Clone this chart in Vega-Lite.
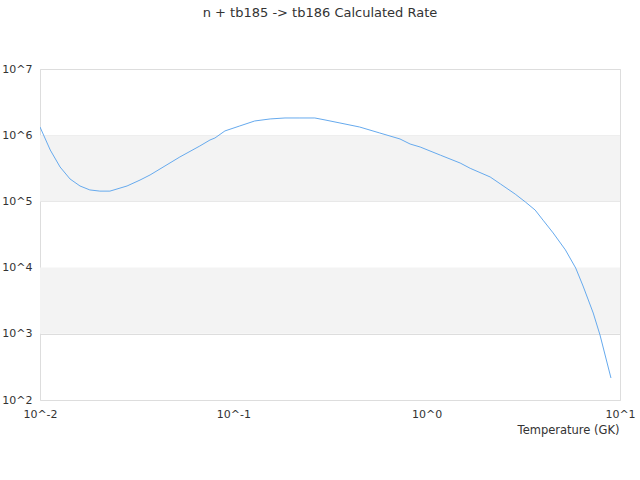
{
  "$schema": "https://vega.github.io/schema/vega-lite/v6.json",
  "width": 580,
  "height": 331,
  "autosize": {"type": "none"},
  "padding": {"left": 40, "top": 69, "right": 20, "bottom": 80},
  "title": {
    "text": "n + tb185 -> tb186 Calculated Rate",
    "font": "DejaVu Sans",
    "fontSize": 13,
    "fontWeight": "normal",
    "color": "#333333",
    "anchor": "middle",
    "offset": 43,
    "dx": -10
  },
  "config": {
    "font": "DejaVu Sans",
    "view": {"stroke": "#dddddd"},
    "axis": {
      "labelFont": "DejaVu Sans",
      "labelFontSize": 11,
      "labelColor": "#333333",
      "titleFont": "DejaVu Sans",
      "titleFontSize": 11.5,
      "titleFontWeight": "normal",
      "titleColor": "#333333",
      "ticks": false,
      "domain": false
    }
  },
  "layer": [
    {
      "data": {"values": [{"lo": 1000, "hi": 10000}, {"lo": 100000, "hi": 1000000}]},
      "mark": {"type": "rect", "color": "#f3f3f3"},
      "encoding": {
        "y": {"field": "lo", "type": "quantitative", "scale": {"type": "log", "domain": [100, 10000000]}},
        "y2": {"field": "hi"}
      }
    },
    {
      "data": {"values": [
        {"T": 0.01, "rate": 1330000},
        {"T": 0.0113, "rate": 597000},
        {"T": 0.0127, "rate": 331000},
        {"T": 0.0143, "rate": 218000},
        {"T": 0.0161, "rate": 171000},
        {"T": 0.0181, "rate": 149000},
        {"T": 0.0204, "rate": 143000},
        {"T": 0.023, "rate": 143000},
        {"T": 0.0282, "rate": 171000},
        {"T": 0.0329, "rate": 210000},
        {"T": 0.0371, "rate": 251000},
        {"T": 0.0443, "rate": 343000},
        {"T": 0.0529, "rate": 469000},
        {"T": 0.0671, "rate": 687000},
        {"T": 0.0757, "rate": 846000},
        {"T": 0.0803, "rate": 907000},
        {"T": 0.0905, "rate": 1160000},
        {"T": 0.108, "rate": 1380000},
        {"T": 0.129, "rate": 1640000},
        {"T": 0.155, "rate": 1760000},
        {"T": 0.185, "rate": 1820000},
        {"T": 0.221, "rate": 1820000},
        {"T": 0.264, "rate": 1820000},
        {"T": 0.298, "rate": 1700000},
        {"T": 0.356, "rate": 1530000},
        {"T": 0.45, "rate": 1330000},
        {"T": 0.572, "rate": 1080000},
        {"T": 0.728, "rate": 877000},
        {"T": 0.821, "rate": 736000},
        {"T": 0.926, "rate": 663000},
        {"T": 1.177, "rate": 500000},
        {"T": 1.49, "rate": 380000},
        {"T": 1.68, "rate": 316000},
        {"T": 2.13, "rate": 234000},
        {"T": 2.41, "rate": 183000},
        {"T": 2.87, "rate": 129000},
        {"T": 3.24, "rate": 98000},
        {"T": 3.64, "rate": 74000},
        {"T": 4.0, "rate": 52000},
        {"T": 4.51, "rate": 33400},
        {"T": 5.22, "rate": 18500},
        {"T": 5.9, "rate": 9860},
        {"T": 6.44, "rate": 5270},
        {"T": 7.27, "rate": 2060},
        {"T": 7.88, "rate": 960},
        {"T": 8.98, "rate": 215}
      ]},
      "mark": {"type": "line", "color": "#66aaee", "strokeWidth": 1, "clip": true},
      "encoding": {
        "x": {
          "field": "T",
          "type": "quantitative",
          "scale": {"type": "log", "domain": [0.01, 10]},
          "axis": {
            "values": [0.01, 0.1, 1, 10],
            "grid": false,
            "labelFlush": false,
            "labelExpr": "'10^' + round(log(datum.value) / LN10)",
            "labelPadding": 8,
            "title": "Temperature (GK)",
            "titleAnchor": "end",
            "titlePadding": 5,
            "titleX": 579
          }
        },
        "y": {
          "field": "rate",
          "type": "quantitative",
          "scale": {"type": "log", "domain": [100, 10000000]},
          "axis": {
            "values": [100, 1000, 10000, 100000, 1000000, 10000000],
            "grid": true,
            "gridColor": "#dddddd",
            "labelExpr": "'10^' + round(log(datum.value) / LN10)",
            "labelPadding": 8,
            "title": null
          }
        }
      }
    }
  ]
}
